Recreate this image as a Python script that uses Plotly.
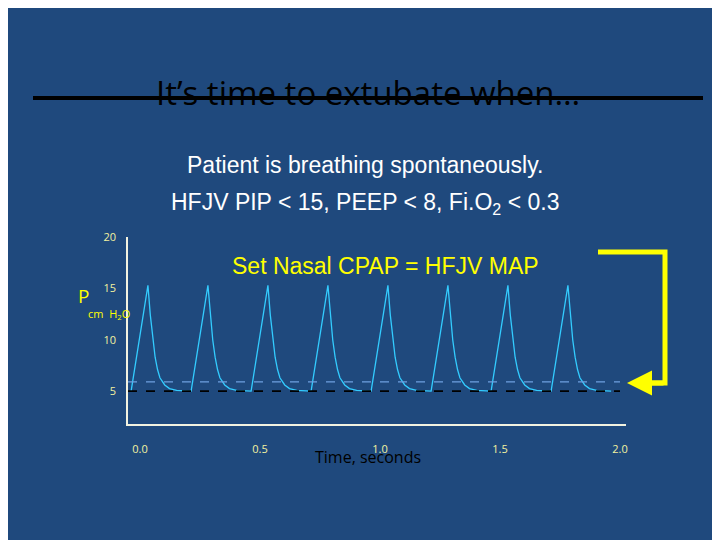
import plotly.graph_objects as go

# pulse shape: offset from peak (s) -> pressure (cm H2O)
pulse_dt = [-0.07, 0.0, 0.01, 0.02, 0.03, 0.04, 0.05, 0.07, 0.09, 0.12, 0.18]
pulse_p = [5.0, 15.3, 12.4, 10.0, 8.3, 7.1, 6.3, 5.6, 5.25, 5.08, 5.0]
peak_times = [0.033, 0.283, 0.533, 0.783, 1.033, 1.283, 1.533, 1.783]
map_level = 5.9
peep_level = 5.0
x_ticks = [0.0, 0.5, 1.0, 1.5, 2.0]
x_tick_text = ['0.0', '0.5', '1.0', '1.5', '2.0']
y_ticks = [5, 10, 15, 20]

t, p = [], []
for pk in peak_times:
    for dt, v in zip(pulse_dt, pulse_p):
        t.append(pk + dt)
        p.append(v)

BG = '#1F497D'
YEL = '#FFFF00'
TICK = '#F2F2A0'

# plot area in pixels: left 120, right 618, top 229, bottom 416
L, R, T, B = 120, 618, 229, 416
def px(x): return (x - L) / (R - L)
def py(y): return (B - y) / (B - T)

fig = go.Figure()
fig.add_trace(go.Scatter(x=t, y=p, mode='lines', line=dict(color='#33CCFF', width=1.3), showlegend=False))
fig.add_trace(go.Scatter(x=[-0.05, 2.0], y=[map_level, map_level], mode='lines',
                         line=dict(color='#6FA0E0', width=1.3, dash='dash'), showlegend=False))
fig.add_trace(go.Scatter(x=[-0.05, 2.0], y=[peep_level, peep_level], mode='lines',
                         line=dict(color='black', width=1.6, dash='dash'), showlegend=False))

fig.update_xaxes(range=[-0.05, 2.025], tickvals=x_ticks, ticktext=x_tick_text,
                 showgrid=False, zeroline=False, showline=True, linecolor='#F2F2E0', linewidth=1.5,
                 tickfont=dict(color=TICK, size=11, family='Open Sans'), ticklabelstandoff=14)
fig.update_yaxes(range=[1.8, 20], tickvals=y_ticks, showgrid=False, zeroline=False,
                 showline=True, linecolor='#F2F2E0', linewidth=1.5,
                 tickfont=dict(color=TICK, size=11, family='Open Sans'), ticklabelstandoff=8)

ann = [
    dict(x=px(360), y=py(60), text='It’s time to extubate when…', font=dict(size=33, color='black', family='Open Sans')),
    dict(x=px(357), y=py(142), text='Patient is breathing spontaneously.', font=dict(size=23, color='white', family='Liberation Sans')),
    dict(x=px(357), y=py(179), text='HFJV PIP < 15, PEEP < 8, Fi.O<sub>2</sub> < 0.3', font=dict(size=23, color='white', family='Liberation Sans')),
    dict(x=px(377), y=py(243), text='Set Nasal CPAP = HFJV MAP', font=dict(size=23, color=YEL, family='Liberation Sans')),
    dict(x=px(68), y=py(273), text='P', font=dict(size=19, color=YEL, family='Open Sans')),
    dict(x=px(78), y=py(306), text='cm  H<sub>2</sub>O', font=dict(size=11, color=YEL, family='Open Sans')),
    dict(x=px(360), y=py(462), text='Time, seconds', font=dict(size=16, color='black', family='Open Sans')),
]
for a in ann:
    a.update(xref='paper', yref='paper', showarrow=False)
ann.append(dict(xref='paper', yref='paper', axref='pixel', ayref='pixel',
                x=px(619), y=py(375), ax=38, ay=0, showarrow=True,
                arrowhead=2, arrowsize=1, arrowwidth=5, arrowcolor=YEL, text=''))

shapes = [
    dict(type='line', xref='paper', yref='paper', x0=px(25), x1=px(695), y0=py(90), y1=py(90),
         line=dict(color='black', width=4)),
    dict(type='path', xref='paper', yref='paper',
         path=f'M {px(590)},{py(244)} L {px(657)},{py(244)} L {px(657)},{py(375)} L {px(640)},{py(375)}',
         line=dict(color=YEL, width=5)),
]

fig.update_layout(width=720, height=540, paper_bgcolor=BG, plot_bgcolor=BG,
                  margin=dict(l=L, r=720 - R, t=T, b=540 - B),
                  annotations=ann, shapes=shapes)
fig.write_html('out.html')
